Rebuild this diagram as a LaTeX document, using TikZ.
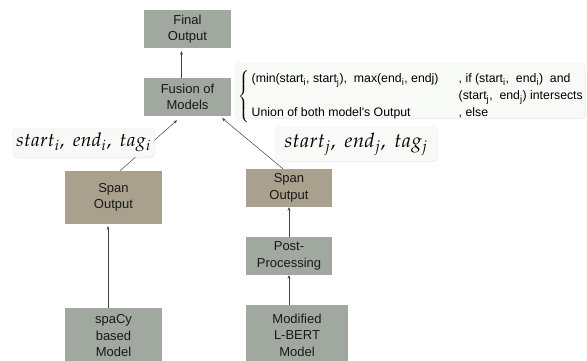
\documentclass[tikz,border=0pt]{standalone}
\usepackage{mathpazo}
\usepackage[no-math]{fontspec}
\setmainfont{Liberation Sans}
\usepackage{tikz}
\usetikzlibrary{arrows.meta}
\usetikzlibrary{shadows}
\definecolor{boxgreen}{HTML}{A0A89F}
\definecolor{boxtan}{HTML}{A9A18D}
\definecolor{labfill}{HTML}{F8FAF8}
\tikzstyle{proc} = [rectangle, fill=boxgreen, text=black!90, align=center, inner sep=0pt, font=\fontsize{13}{16.5}\selectfont]
\tikzstyle{span} = [proc, fill=boxtan]
\tikzstyle{lab} = [rectangle, rounded corners=4pt, fill=labfill, draw=black!7, drop shadow={opacity=0.12, shadow xshift=0.6pt, shadow yshift=-1pt}]
\tikzstyle{arrow} = [draw=black!75, line width=0.5pt, -{Stealth[length=3.5pt,width=3pt]}]

\begin{document}
\begin{tikzpicture}[x=1pt,y=-1pt]

\useasboundingbox (0,0) rectangle (587,360);

\node (final) [proc, minimum width=87pt, minimum height=38pt] at (187.5,29) {Final\\Output};
\node (fusion) [proc, minimum width=87pt, minimum height=38pt] at (187.5,97) {Fusion of\\Models};

\node (spanl) [span, minimum width=97pt, minimum height=53pt] at (113.5,197.5) {Span\\Output};
\node (spacy) [proc, minimum width=97pt, minimum height=56pt] at (113.5,336) {spaCy\\based\\Model};

\node (spanr) [span, minimum width=86pt, minimum height=38pt] at (289,188) {Span\\Output};
\node (post) [proc, minimum width=86pt, minimum height=38pt] at (289,256) {Post-\\Processing};
\node (lbert) [proc, minimum width=102pt, minimum height=60pt] at (297,335) {Modified\\L-BERT\\Model};

\draw [arrow, shorten >=2pt] ([xshift=-5.5]spacy.north) -- ([xshift=-5.5]spanl.south);
\draw [arrow] (lbert.north -| post.south) -- (post.south);
\draw [arrow] (post.north) -- (spanr.south);
\draw [arrow] ([xshift=-6]spanr.north) -- ([xshift=-9,yshift=-2]fusion.south east);
\draw [arrow] ([xshift=6.5]spanl.north) -- ([xshift=-10.5,yshift=-4]fusion.south);
\draw [arrow, shorten >=3pt] ([xshift=-6]fusion.north) -- ([xshift=-6]final.south);

\node (labi) [lab, minimum width=137pt, minimum height=29pt] at (83.5,142.5) {\fontsize{19}{19}\selectfont $start_i,\ end_i,\ tag_i$};
\node (labj) [lab, minimum width=162pt, minimum height=34pt] at (356,144) {\fontsize{20}{20}\selectfont $start_j,\ end_j,\ tag_j$};

\node (cond) [lab, minimum width=350pt, minimum height=55pt] at (410,90.5) {};
\node (condtxt) [anchor=west, inner sep=0pt, font=\fontsize{12.3}{17}\selectfont] at ([xshift=3,yshift=-6]cond.west)
  {$\left\{\hspace{2.5pt}\begin{tabular}{@{}p{204pt}@{\hspace{3pt}}l@{}}
  (min(start\textsubscript{i}, start\textsubscript{j}),\ \ max(end\textsubscript{i}, endj) & , if (start\textsubscript{i},\ \ end\textsubscript{i})\ \ and\\
  & (start\textsubscript{j},\ \ end\textsubscript{j}) intersects\\
  Union of both model\textquotesingle s Output & , else
  \end{tabular}\right.$};

\end{tikzpicture}
\end{document}
